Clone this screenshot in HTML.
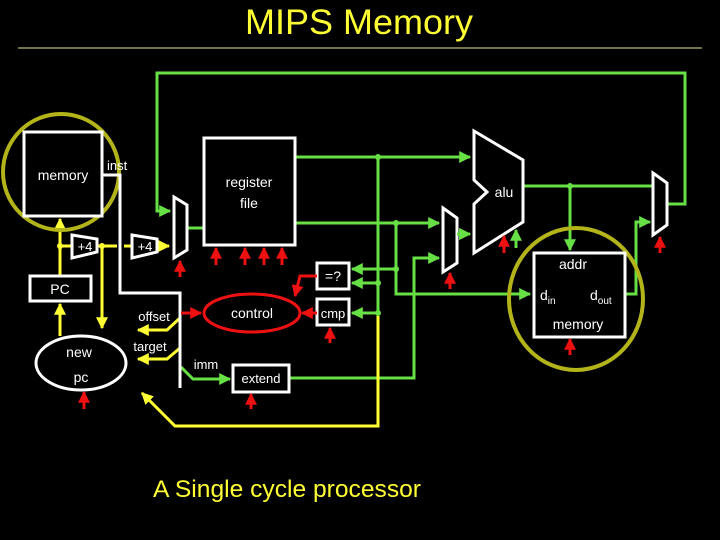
<!DOCTYPE html>
<html><head><meta charset="utf-8"><style>
html,body{margin:0;padding:0;background:#000;}
svg{display:block;}
text{font-family:"Liberation Sans",sans-serif;fill:#fff;}
</style></head><body>
<svg width="720" height="540" viewBox="0 0 720 540" xmlns="http://www.w3.org/2000/svg">
<defs>
<marker id="ag" viewBox="0 0 10 10" refX="9" refY="5" markerWidth="4" markerHeight="4" orient="auto" markerUnits="strokeWidth"><path d="M0,0L10,5L0,10z" fill="#66e044"/></marker>
<marker id="ay" viewBox="0 0 10 10" refX="9" refY="5" markerWidth="4" markerHeight="4" orient="auto" markerUnits="strokeWidth"><path d="M0,0L10,5L0,10z" fill="#ffff33"/></marker>
<marker id="ar" viewBox="0 0 10 10" refX="9" refY="5" markerWidth="4" markerHeight="4" orient="auto" markerUnits="strokeWidth"><path d="M0,0L10,5L0,10z" fill="#ee1111"/></marker>
</defs>
<rect width="720" height="540" fill="#000"/>
<text x="359" y="34" font-size="35" text-anchor="middle" style="fill:#ffff33" textLength="228" lengthAdjust="spacingAndGlyphs">MIPS Memory</text>
<line x1="18" y1="48" x2="702" y2="48" stroke="#e8e890" stroke-width="1"/>
<text x="287" y="497" font-size="24" text-anchor="middle" style="fill:#ffff33" textLength="268" lengthAdjust="spacingAndGlyphs">A Single cycle processor</text>

<!-- green wires -->
<g stroke="#66e044" stroke-width="3" fill="none">
<polyline points="667,204 685,204 685,73 157,73 157,211 170,211" marker-end="url(#ag)"/>
<line x1="188" y1="228" x2="204" y2="228"/>
<polyline points="295,157 470,157" marker-end="url(#ag)"/>
<polyline points="295,223 439,223" marker-end="url(#ag)"/>
<line x1="378" y1="157" x2="378" y2="313"/>
<polyline points="378,283 352,283" marker-end="url(#ag)"/>
<polyline points="396,269 352,269" marker-end="url(#ag)"/>
<polyline points="378,313 352,313" marker-end="url(#ag)"/>
<polyline points="396,223 396,294 530,294" marker-end="url(#ag)"/>
<polyline points="289,378 414,378 414,258 439,258" marker-end="url(#ag)"/>
<polyline points="457,234 470,234" marker-end="url(#ag)"/>
<polyline points="523,186 653,186"/>
<polyline points="570,186 570,250" marker-end="url(#ag)"/>
<polyline points="625,294 636,294 636,222 650,222" marker-end="url(#ag)"/>
<polyline points="181,367 193,379 230,379" marker-end="url(#ag)"/>
<polyline points="516,248 516,230" marker-end="url(#ag)"/>
</g>
<g fill="#66e044">
<circle cx="378" cy="157" r="3"/><circle cx="396" cy="223" r="3"/><circle cx="378" cy="283" r="3"/><circle cx="396" cy="269" r="3"/><circle cx="378" cy="313" r="3"/><circle cx="570" cy="186" r="3"/>
</g>
<rect x="375" y="288" width="6" height="4" fill="#000"/>
<line x1="378" y1="288" x2="378" y2="299" stroke="#66e044" stroke-width="3"/>

<!-- yellow wires -->
<g stroke="#ffff33" stroke-width="3" fill="none">
<line x1="60" y1="246" x2="169" y2="246" marker-end="url(#ay)"/>
<polyline points="60,246 60,219" marker-end="url(#ay)"/>
<line x1="60" y1="276" x2="60" y2="246"/>
<polyline points="60,336 60,304" marker-end="url(#ay)"/>
<polyline points="102,246 102,328" marker-end="url(#ay)"/>
<polyline points="180,318 167,330 138,330" marker-end="url(#ay)"/>
<polyline points="180,348 167,359 138,359" marker-end="url(#ay)"/>
<polyline points="378,316 378,426 175,426 142,393" marker-end="url(#ay)"/>
</g>
<rect x="117" y="243" width="7" height="6" fill="#000"/>
<line x1="120" y1="236" x2="120" y2="243" stroke="#fff" stroke-width="3"/>
<line x1="120" y1="249" x2="120" y2="256" stroke="#fff" stroke-width="3"/>
<g fill="#ffff33"><circle cx="60" cy="246" r="3"/><circle cx="102" cy="246" r="3"/></g>

<!-- circles -->
<circle cx="61" cy="172" r="58" fill="none" stroke="#b3b31a" stroke-width="4"/>
<ellipse cx="576" cy="299" rx="67" ry="71" fill="none" stroke="#b3b31a" stroke-width="4"/>

<!-- white shapes -->
<g stroke="#fff" stroke-width="3" fill="none">
<rect x="24" y="132" width="78" height="84" fill="#000"/>
<polyline points="102,175 120,175 120,293 180,293 180,388"/>
<polygon points="72,235 97,239 97,252 72,258" fill="#000"/>
<polygon points="132,235 157,239 157,252 132,258" fill="#000"/>
<polygon points="174,197 187,205 187,250 174,258" fill="#000"/>
<rect x="204" y="138" width="91" height="107" fill="#000"/>
<rect x="30" y="276" width="61" height="25" fill="#000"/>
<ellipse cx="81" cy="363" rx="45" ry="27" fill="#000"/>
<rect x="317" y="263" width="32" height="26" fill="#000"/>
<rect x="317" y="299" width="32" height="26" fill="#000"/>
<rect x="233" y="365" width="56" height="27" fill="#000"/>
<polygon points="443,208 457,218 457,263 443,272" fill="#000"/>
<polygon points="474,131 523,160 523,222 474,253 474,204 487,192 474,180" fill="#000"/>
<rect x="534" y="253" width="91" height="84" fill="#000"/>
<polygon points="653,173 667,183 667,225 653,235" fill="#000"/>
</g>
<line x1="457" y1="234" x2="470" y2="234" stroke="#66e044" stroke-width="3" marker-end="url(#ag)"/>

<!-- red -->
<g stroke="#ee1111" stroke-width="3" fill="none">
<ellipse cx="252" cy="313" rx="48" ry="19"/>
<polyline points="181,313 201,313" marker-end="url(#ar)"/>
<polyline points="317,276 300,276 295,296" marker-end="url(#ar)"/>
<polyline points="317,313 302,313" marker-end="url(#ar)"/>
<line x1="180" y1="277" x2="180" y2="261" marker-end="url(#ar)"/>
<line x1="216" y1="265" x2="216" y2="248" marker-end="url(#ar)"/>
<line x1="245" y1="265" x2="245" y2="248" marker-end="url(#ar)"/>
<line x1="264" y1="265" x2="264" y2="248" marker-end="url(#ar)"/>
<line x1="282" y1="265" x2="282" y2="248" marker-end="url(#ar)"/>
<line x1="330" y1="343" x2="330" y2="328" marker-end="url(#ar)"/>
<line x1="450" y1="289" x2="450" y2="273" marker-end="url(#ar)"/>
<line x1="504" y1="253" x2="504" y2="236" marker-end="url(#ar)"/>
<line x1="660" y1="253" x2="660" y2="237" marker-end="url(#ar)"/>
<line x1="570" y1="355" x2="570" y2="339" marker-end="url(#ar)"/>
<line x1="84" y1="409" x2="84" y2="392" marker-end="url(#ar)"/>
<line x1="251" y1="409" x2="251" y2="394" marker-end="url(#ar)"/>
</g>

<!-- labels -->
<g font-size="14">
<text x="63" y="180" text-anchor="middle">memory</text>
<text x="107" y="170" font-size="13">inst</text>
<text x="85" y="251" text-anchor="middle" font-size="13">+4</text>
<text x="145" y="251" text-anchor="middle" font-size="13">+4</text>
<text x="249" y="187" text-anchor="middle">register</text>
<text x="249" y="208" text-anchor="middle">file</text>
<text x="60" y="294" text-anchor="middle">PC</text>
<text x="79" y="357" text-anchor="middle">new</text>
<text x="81" y="382" text-anchor="middle">pc</text>
<text x="154" y="321" text-anchor="middle" font-size="13">offset</text>
<text x="150" y="351" text-anchor="middle" font-size="13">target</text>
<text x="206" y="369" text-anchor="middle" font-size="13">imm</text>
<text x="252" y="318" text-anchor="middle">control</text>
<text x="333" y="281" text-anchor="middle">=?</text>
<text x="333" y="318" text-anchor="middle" font-size="13">cmp</text>
<text x="261" y="383" text-anchor="middle" font-size="13">extend</text>
<text x="504" y="197" text-anchor="middle">alu</text>
<text x="573" y="269" text-anchor="middle">addr</text>
<text x="540" y="300">d<tspan font-size="10" dy="4">in</tspan></text>
<text x="590" y="300">d<tspan font-size="10" dy="4">out</tspan></text>
<text x="578" y="329" text-anchor="middle">memory</text>
</g>
</svg>
</body></html>
